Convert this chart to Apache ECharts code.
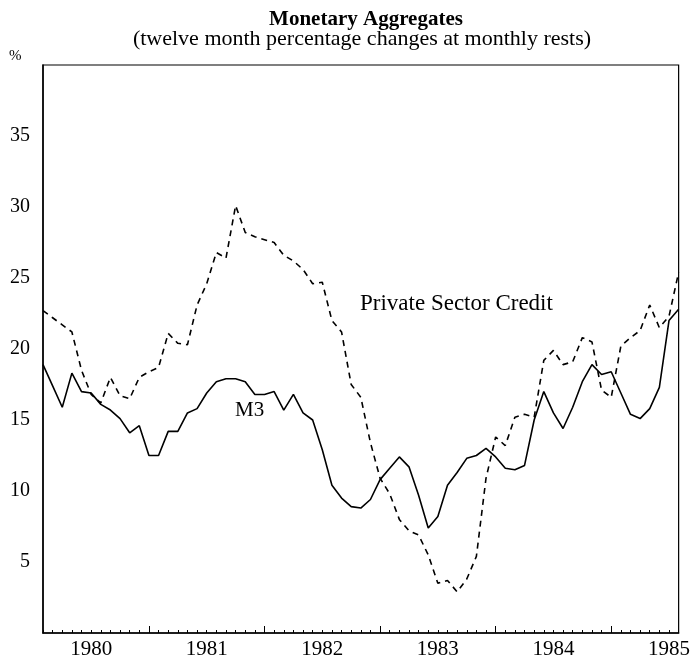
<!DOCTYPE html>
<html>
<head>
<meta charset="utf-8">
<script src="https://cdn.jsdelivr.net/npm/echarts@6/dist/echarts.min.js"></script>
<style>html,body{margin:0;padding:0;background:#fff}#c{width:693px;height:662px}</style>
</head>
<body>
<div id="c"></div>
<script>
// Monthly observations, Jan 1980 .. Jul 1985
const years = ['1980','1981','1982','1983','1984','1985'];
const months = [];
for (const y of years) for (let m = 1; m <= 12; m++) months.push(y + '-' + String(m).padStart(2,'0'));
months.length = 67;

const m3 = [18.9,17.4,15.9,18.3,17.0,16.9,16.1,15.7,15.1,14.1,14.6,12.5,
            12.5,14.2,14.2,15.5,15.8,16.9,17.7,17.9,17.9,17.7,16.8,16.8,
            17.0,15.7,16.8,15.5,15.0,12.9,10.4,9.5,8.9,8.8,9.4,10.8,
            11.6,12.4,11.7,9.7,7.4,8.2,10.4,11.3,12.3,12.5,13.0,12.4,
            11.6,11.5,11.8,15.0,17.0,15.5,14.4,15.9,17.7,18.9,18.2,18.4,
            16.9,15.4,15.1,15.8,17.3,22.0,22.8];
const psc = [22.7,22.2,21.7,21.2,18.5,16.8,16.2,18.0,16.7,16.5,18.0,18.4,
             18.7,21.1,20.4,20.3,23.1,24.6,26.8,26.4,30.1,28.2,27.9,27.7,
             27.5,26.6,26.2,25.6,24.6,24.7,22.0,21.2,17.5,16.6,13.4,10.9,
             9.8,8.0,7.2,6.9,5.5,3.5,3.7,2.9,3.8,5.4,10.9,13.8,
             13.2,15.2,15.4,15.2,19.2,19.9,18.9,19.1,20.8,20.5,17.1,16.6,
             20.2,20.8,21.3,23.1,21.5,22.3,25.4];

const F = '"Liberation Serif", "DejaVu Serif", serif';
const chart = echarts.init(document.getElementById('c'), null, {renderer: 'canvas'});
chart.setOption({
  animation: false,
  backgroundColor: '#fff',
  grid: {left: 43, right: 8, top: 65, bottom: 29, show: true, borderColor: '#000', borderWidth: 1.2, backgroundColor: 'transparent'},
  xAxis: [{
    type: 'category', data: months, boundaryGap: false,
    axisLine: {lineStyle: {color: '#000', width: 1.5}},
    axisTick: {inside: true, length: 3, interval: 0, lineStyle: {color: '#000', width: 1}},
    axisLabel: {
      interval: function (i) { return i % 12 === 5; },
      formatter: function (v) { return v.slice(0, 4); },
      color: '#000', fontFamily: F, fontSize: 21, margin: 6
    },
    splitLine: {show: false}
  }, {
    type: 'category', data: months, boundaryGap: false, position: 'bottom',
    axisLine: {show: false},
    axisTick: {inside: true, length: 7, interval: function (i) { return i % 12 === 11; }, lineStyle: {color: '#000', width: 1}},
    axisLabel: {show: false},
    splitLine: {show: false}
  }],
  yAxis: {
    type: 'value', min: 0, max: 40, interval: 5,
    axisLine: {show: true, lineStyle: {color: '#000', width: 1.5}},
    axisTick: {inside: true, length: 5, lineStyle: {color: '#000', width: 1}},
    axisLabel: {
      formatter: function (v) { return (v === 0 || v === 40) ? '' : String(v); },
      color: '#000', fontFamily: F, fontSize: 20, margin: 13
    },
    splitLine: {show: false}
  },
  series: [{
    name: 'M3', type: 'line', data: m3, xAxisIndex: 0, symbol: 'none',
    lineStyle: {color: '#000', width: 1.6}
  }, {
    name: 'Private Sector Credit', type: 'line', data: psc, xAxisIndex: 0, symbol: 'none',
    lineStyle: {color: '#000', width: 1.6, type: [6, 5]}
  }],
  graphic: [
    {type: 'text', x: 366, y: 9, style: {text: 'Monetary Aggregates', fontFamily: F, fontSize: 21, fontWeight: 'bold', fill: '#000', align: 'center', verticalAlign: 'top'}},
    {type: 'text', x: 362, y: 28, style: {text: '(twelve month percentage changes at monthly rests)', fontFamily: F, fontSize: 22, fill: '#000', align: 'center', verticalAlign: 'top'}},
    {type: 'text', x: 9, y: 49, style: {text: '%', fontFamily: F, fontSize: 15, fill: '#000'}},
    {type: 'text', x: 360, y: 292, style: {text: 'Private Sector Credit', fontFamily: F, fontSize: 23, fill: '#000'}},
    {type: 'text', x: 235, y: 400, style: {text: 'M3', fontFamily: F, fontSize: 21, fill: '#000'}}
  ]
});
</script>
</body>
</html>
